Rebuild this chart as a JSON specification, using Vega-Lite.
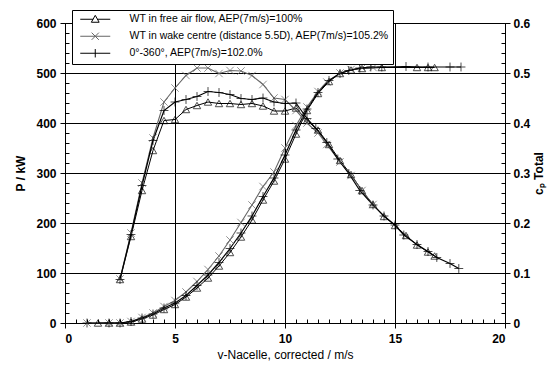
{
  "$schema": "https://vega.github.io/schema/vega-lite/v6.json",
  "width": 440,
  "height": 300,
  "autosize": {"type": "none"},
  "padding": {"left": 65, "top": 23, "right": 48, "bottom": 48},
  "background": "white",
  "config": {
    "font": "Liberation Sans",
    "view": {"stroke": "black", "strokeWidth": 1, "fill": "#f8f8f8"},
    "axis": {
      "labelFont": "Liberation Sans", "titleFont": "Liberation Sans",
      "labelColor": "black", "titleColor": "black", "domainColor": "black",
      "tickColor": "black", "gridColor": "black", "gridOpacity": 1, "gridWidth": 1,
      "labelFontSize": 12, "labelFontWeight": "bold", "titleFontSize": 12, "titleFontWeight": "bold",
      "tickSize": 5, "domainWidth": 1, "tickWidth": 1
    }
  },
  "datasets": {
    "power": [
      {"s": "WT in free air flow, AEP(7m/s)=100%", "v": 1.5, "p": 0},
      {"s": "WT in free air flow, AEP(7m/s)=100%", "v": 2.0, "p": 0},
      {"s": "WT in free air flow, AEP(7m/s)=100%", "v": 2.5, "p": 0},
      {"s": "WT in free air flow, AEP(7m/s)=100%", "v": 3.0, "p": 2},
      {"s": "WT in free air flow, AEP(7m/s)=100%", "v": 3.5, "p": 8},
      {"s": "WT in free air flow, AEP(7m/s)=100%", "v": 4.0, "p": 16},
      {"s": "WT in free air flow, AEP(7m/s)=100%", "v": 4.5, "p": 27},
      {"s": "WT in free air flow, AEP(7m/s)=100%", "v": 5.0, "p": 37},
      {"s": "WT in free air flow, AEP(7m/s)=100%", "v": 5.5, "p": 52},
      {"s": "WT in free air flow, AEP(7m/s)=100%", "v": 6.0, "p": 70},
      {"s": "WT in free air flow, AEP(7m/s)=100%", "v": 6.5, "p": 90},
      {"s": "WT in free air flow, AEP(7m/s)=100%", "v": 7.0, "p": 114},
      {"s": "WT in free air flow, AEP(7m/s)=100%", "v": 7.5, "p": 141},
      {"s": "WT in free air flow, AEP(7m/s)=100%", "v": 8.0, "p": 172},
      {"s": "WT in free air flow, AEP(7m/s)=100%", "v": 8.5, "p": 206},
      {"s": "WT in free air flow, AEP(7m/s)=100%", "v": 9.0, "p": 246},
      {"s": "WT in free air flow, AEP(7m/s)=100%", "v": 9.5, "p": 284},
      {"s": "WT in free air flow, AEP(7m/s)=100%", "v": 10.0, "p": 328},
      {"s": "WT in free air flow, AEP(7m/s)=100%", "v": 10.5, "p": 378},
      {"s": "WT in free air flow, AEP(7m/s)=100%", "v": 11.0, "p": 425},
      {"s": "WT in free air flow, AEP(7m/s)=100%", "v": 11.5, "p": 459},
      {"s": "WT in free air flow, AEP(7m/s)=100%", "v": 12.0, "p": 483},
      {"s": "WT in free air flow, AEP(7m/s)=100%", "v": 12.5, "p": 499},
      {"s": "WT in free air flow, AEP(7m/s)=100%", "v": 13.0, "p": 506},
      {"s": "WT in free air flow, AEP(7m/s)=100%", "v": 13.5, "p": 509},
      {"s": "WT in free air flow, AEP(7m/s)=100%", "v": 14.4, "p": 511},
      {"s": "WT in free air flow, AEP(7m/s)=100%", "v": 16.0, "p": 511},
      {"s": "WT in free air flow, AEP(7m/s)=100%", "v": 16.5, "p": 511},
      {"s": "WT in free air flow, AEP(7m/s)=100%", "v": 16.8, "p": 511},
      {"s": "WT in wake centre (distance 5.5D), AEP(7m/s)=105.2%", "v": 1.0, "p": 0},
      {"s": "WT in wake centre (distance 5.5D), AEP(7m/s)=105.2%", "v": 2.0, "p": 0},
      {"s": "WT in wake centre (distance 5.5D), AEP(7m/s)=105.2%", "v": 2.5, "p": 0},
      {"s": "WT in wake centre (distance 5.5D), AEP(7m/s)=105.2%", "v": 3.0, "p": 3},
      {"s": "WT in wake centre (distance 5.5D), AEP(7m/s)=105.2%", "v": 3.5, "p": 11},
      {"s": "WT in wake centre (distance 5.5D), AEP(7m/s)=105.2%", "v": 4.0, "p": 20},
      {"s": "WT in wake centre (distance 5.5D), AEP(7m/s)=105.2%", "v": 4.5, "p": 33},
      {"s": "WT in wake centre (distance 5.5D), AEP(7m/s)=105.2%", "v": 5.0, "p": 45},
      {"s": "WT in wake centre (distance 5.5D), AEP(7m/s)=105.2%", "v": 5.5, "p": 62},
      {"s": "WT in wake centre (distance 5.5D), AEP(7m/s)=105.2%", "v": 6.0, "p": 83},
      {"s": "WT in wake centre (distance 5.5D), AEP(7m/s)=105.2%", "v": 6.5, "p": 107},
      {"s": "WT in wake centre (distance 5.5D), AEP(7m/s)=105.2%", "v": 7.0, "p": 134},
      {"s": "WT in wake centre (distance 5.5D), AEP(7m/s)=105.2%", "v": 7.5, "p": 166},
      {"s": "WT in wake centre (distance 5.5D), AEP(7m/s)=105.2%", "v": 8.0, "p": 201},
      {"s": "WT in wake centre (distance 5.5D), AEP(7m/s)=105.2%", "v": 8.5, "p": 236},
      {"s": "WT in wake centre (distance 5.5D), AEP(7m/s)=105.2%", "v": 9.0, "p": 273},
      {"s": "WT in wake centre (distance 5.5D), AEP(7m/s)=105.2%", "v": 9.5, "p": 302},
      {"s": "WT in wake centre (distance 5.5D), AEP(7m/s)=105.2%", "v": 10.0, "p": 350},
      {"s": "WT in wake centre (distance 5.5D), AEP(7m/s)=105.2%", "v": 10.5, "p": 395},
      {"s": "WT in wake centre (distance 5.5D), AEP(7m/s)=105.2%", "v": 11.0, "p": 432},
      {"s": "WT in wake centre (distance 5.5D), AEP(7m/s)=105.2%", "v": 11.5, "p": 463},
      {"s": "WT in wake centre (distance 5.5D), AEP(7m/s)=105.2%", "v": 11.9, "p": 482},
      {"s": "WT in wake centre (distance 5.5D), AEP(7m/s)=105.2%", "v": 12.5, "p": 500},
      {"s": "WT in wake centre (distance 5.5D), AEP(7m/s)=105.2%", "v": 13.0, "p": 507},
      {"s": "WT in wake centre (distance 5.5D), AEP(7m/s)=105.2%", "v": 13.5, "p": 510},
      {"s": "WT in wake centre (distance 5.5D), AEP(7m/s)=105.2%", "v": 14.0, "p": 511},
      {"s": "0°-360°, AEP(7m/s)=102.0%", "v": 1.0, "p": 0},
      {"s": "0°-360°, AEP(7m/s)=102.0%", "v": 2.0, "p": 0},
      {"s": "0°-360°, AEP(7m/s)=102.0%", "v": 2.5, "p": 0},
      {"s": "0°-360°, AEP(7m/s)=102.0%", "v": 3.0, "p": 3},
      {"s": "0°-360°, AEP(7m/s)=102.0%", "v": 3.5, "p": 10},
      {"s": "0°-360°, AEP(7m/s)=102.0%", "v": 4.0, "p": 18},
      {"s": "0°-360°, AEP(7m/s)=102.0%", "v": 4.5, "p": 30},
      {"s": "0°-360°, AEP(7m/s)=102.0%", "v": 5.0, "p": 40},
      {"s": "0°-360°, AEP(7m/s)=102.0%", "v": 5.5, "p": 55},
      {"s": "0°-360°, AEP(7m/s)=102.0%", "v": 6.0, "p": 75},
      {"s": "0°-360°, AEP(7m/s)=102.0%", "v": 6.5, "p": 96},
      {"s": "0°-360°, AEP(7m/s)=102.0%", "v": 7.0, "p": 121},
      {"s": "0°-360°, AEP(7m/s)=102.0%", "v": 7.5, "p": 149},
      {"s": "0°-360°, AEP(7m/s)=102.0%", "v": 8.0, "p": 180},
      {"s": "0°-360°, AEP(7m/s)=102.0%", "v": 8.5, "p": 214},
      {"s": "0°-360°, AEP(7m/s)=102.0%", "v": 9.0, "p": 253},
      {"s": "0°-360°, AEP(7m/s)=102.0%", "v": 9.5, "p": 290},
      {"s": "0°-360°, AEP(7m/s)=102.0%", "v": 10.0, "p": 336},
      {"s": "0°-360°, AEP(7m/s)=102.0%", "v": 10.5, "p": 386},
      {"s": "0°-360°, AEP(7m/s)=102.0%", "v": 11.0, "p": 428},
      {"s": "0°-360°, AEP(7m/s)=102.0%", "v": 11.5, "p": 461},
      {"s": "0°-360°, AEP(7m/s)=102.0%", "v": 12.0, "p": 485},
      {"s": "0°-360°, AEP(7m/s)=102.0%", "v": 12.5, "p": 499},
      {"s": "0°-360°, AEP(7m/s)=102.0%", "v": 12.9, "p": 505},
      {"s": "0°-360°, AEP(7m/s)=102.0%", "v": 13.4, "p": 510},
      {"s": "0°-360°, AEP(7m/s)=102.0%", "v": 13.9, "p": 512},
      {"s": "0°-360°, AEP(7m/s)=102.0%", "v": 14.4, "p": 512},
      {"s": "0°-360°, AEP(7m/s)=102.0%", "v": 15.5, "p": 513},
      {"s": "0°-360°, AEP(7m/s)=102.0%", "v": 16.5, "p": 512},
      {"s": "0°-360°, AEP(7m/s)=102.0%", "v": 17.5, "p": 512},
      {"s": "0°-360°, AEP(7m/s)=102.0%", "v": 18.0, "p": 512}
    ],
    "cp": [
      {"s": "WT in free air flow, AEP(7m/s)=100%", "v": 2.5, "c": 0.087},
      {"s": "WT in free air flow, AEP(7m/s)=100%", "v": 3.0, "c": 0.173},
      {"s": "WT in free air flow, AEP(7m/s)=100%", "v": 3.5, "c": 0.265},
      {"s": "WT in free air flow, AEP(7m/s)=100%", "v": 4.0, "c": 0.345},
      {"s": "WT in free air flow, AEP(7m/s)=100%", "v": 4.5, "c": 0.405},
      {"s": "WT in free air flow, AEP(7m/s)=100%", "v": 5.0, "c": 0.407},
      {"s": "WT in free air flow, AEP(7m/s)=100%", "v": 5.5, "c": 0.427},
      {"s": "WT in free air flow, AEP(7m/s)=100%", "v": 6.0, "c": 0.435},
      {"s": "WT in free air flow, AEP(7m/s)=100%", "v": 6.5, "c": 0.442},
      {"s": "WT in free air flow, AEP(7m/s)=100%", "v": 7.0, "c": 0.439},
      {"s": "WT in free air flow, AEP(7m/s)=100%", "v": 7.5, "c": 0.439},
      {"s": "WT in free air flow, AEP(7m/s)=100%", "v": 8.0, "c": 0.437},
      {"s": "WT in free air flow, AEP(7m/s)=100%", "v": 8.5, "c": 0.439},
      {"s": "WT in free air flow, AEP(7m/s)=100%", "v": 9.0, "c": 0.434},
      {"s": "WT in free air flow, AEP(7m/s)=100%", "v": 9.5, "c": 0.424},
      {"s": "WT in free air flow, AEP(7m/s)=100%", "v": 10.0, "c": 0.424},
      {"s": "WT in free air flow, AEP(7m/s)=100%", "v": 10.5, "c": 0.43},
      {"s": "WT in free air flow, AEP(7m/s)=100%", "v": 11.0, "c": 0.405},
      {"s": "WT in free air flow, AEP(7m/s)=100%", "v": 11.5, "c": 0.386},
      {"s": "WT in free air flow, AEP(7m/s)=100%", "v": 12.0, "c": 0.357},
      {"s": "WT in free air flow, AEP(7m/s)=100%", "v": 12.5, "c": 0.325},
      {"s": "WT in free air flow, AEP(7m/s)=100%", "v": 13.0, "c": 0.297},
      {"s": "WT in free air flow, AEP(7m/s)=100%", "v": 13.5, "c": 0.265},
      {"s": "WT in free air flow, AEP(7m/s)=100%", "v": 14.0, "c": 0.237},
      {"s": "WT in free air flow, AEP(7m/s)=100%", "v": 14.5, "c": 0.213},
      {"s": "WT in free air flow, AEP(7m/s)=100%", "v": 15.0, "c": 0.195},
      {"s": "WT in free air flow, AEP(7m/s)=100%", "v": 15.5, "c": 0.175},
      {"s": "WT in free air flow, AEP(7m/s)=100%", "v": 16.0, "c": 0.156},
      {"s": "WT in free air flow, AEP(7m/s)=100%", "v": 16.5, "c": 0.142},
      {"s": "WT in free air flow, AEP(7m/s)=100%", "v": 16.8, "c": 0.134},
      {"s": "WT in wake centre (distance 5.5D), AEP(7m/s)=105.2%", "v": 2.5, "c": 0.088},
      {"s": "WT in wake centre (distance 5.5D), AEP(7m/s)=105.2%", "v": 3.0, "c": 0.18},
      {"s": "WT in wake centre (distance 5.5D), AEP(7m/s)=105.2%", "v": 3.5, "c": 0.28},
      {"s": "WT in wake centre (distance 5.5D), AEP(7m/s)=105.2%", "v": 4.0, "c": 0.37},
      {"s": "WT in wake centre (distance 5.5D), AEP(7m/s)=105.2%", "v": 4.5, "c": 0.442},
      {"s": "WT in wake centre (distance 5.5D), AEP(7m/s)=105.2%", "v": 5.0, "c": 0.47},
      {"s": "WT in wake centre (distance 5.5D), AEP(7m/s)=105.2%", "v": 5.5, "c": 0.495},
      {"s": "WT in wake centre (distance 5.5D), AEP(7m/s)=105.2%", "v": 6.0, "c": 0.51},
      {"s": "WT in wake centre (distance 5.5D), AEP(7m/s)=105.2%", "v": 6.5, "c": 0.51},
      {"s": "WT in wake centre (distance 5.5D), AEP(7m/s)=105.2%", "v": 7.0, "c": 0.499},
      {"s": "WT in wake centre (distance 5.5D), AEP(7m/s)=105.2%", "v": 7.5, "c": 0.505},
      {"s": "WT in wake centre (distance 5.5D), AEP(7m/s)=105.2%", "v": 8.0, "c": 0.504},
      {"s": "WT in wake centre (distance 5.5D), AEP(7m/s)=105.2%", "v": 8.5, "c": 0.495},
      {"s": "WT in wake centre (distance 5.5D), AEP(7m/s)=105.2%", "v": 9.0, "c": 0.477},
      {"s": "WT in wake centre (distance 5.5D), AEP(7m/s)=105.2%", "v": 9.5, "c": 0.45},
      {"s": "WT in wake centre (distance 5.5D), AEP(7m/s)=105.2%", "v": 10.0, "c": 0.447},
      {"s": "WT in wake centre (distance 5.5D), AEP(7m/s)=105.2%", "v": 10.5, "c": 0.425},
      {"s": "WT in wake centre (distance 5.5D), AEP(7m/s)=105.2%", "v": 11.0, "c": 0.4},
      {"s": "WT in wake centre (distance 5.5D), AEP(7m/s)=105.2%", "v": 11.5, "c": 0.38},
      {"s": "WT in wake centre (distance 5.5D), AEP(7m/s)=105.2%", "v": 11.9, "c": 0.357},
      {"s": "WT in wake centre (distance 5.5D), AEP(7m/s)=105.2%", "v": 12.5, "c": 0.322},
      {"s": "WT in wake centre (distance 5.5D), AEP(7m/s)=105.2%", "v": 13.0, "c": 0.295},
      {"s": "WT in wake centre (distance 5.5D), AEP(7m/s)=105.2%", "v": 13.5, "c": 0.265},
      {"s": "WT in wake centre (distance 5.5D), AEP(7m/s)=105.2%", "v": 14.0, "c": 0.237},
      {"s": "0°-360°, AEP(7m/s)=102.0%", "v": 2.5, "c": 0.087},
      {"s": "0°-360°, AEP(7m/s)=102.0%", "v": 3.0, "c": 0.177},
      {"s": "0°-360°, AEP(7m/s)=102.0%", "v": 3.5, "c": 0.275},
      {"s": "0°-360°, AEP(7m/s)=102.0%", "v": 4.0, "c": 0.365},
      {"s": "0°-360°, AEP(7m/s)=102.0%", "v": 4.5, "c": 0.425},
      {"s": "0°-360°, AEP(7m/s)=102.0%", "v": 5.0, "c": 0.442},
      {"s": "0°-360°, AEP(7m/s)=102.0%", "v": 5.5, "c": 0.447},
      {"s": "0°-360°, AEP(7m/s)=102.0%", "v": 6.0, "c": 0.453},
      {"s": "0°-360°, AEP(7m/s)=102.0%", "v": 6.5, "c": 0.463},
      {"s": "0°-360°, AEP(7m/s)=102.0%", "v": 7.0, "c": 0.461},
      {"s": "0°-360°, AEP(7m/s)=102.0%", "v": 7.5, "c": 0.457},
      {"s": "0°-360°, AEP(7m/s)=102.0%", "v": 8.0, "c": 0.449},
      {"s": "0°-360°, AEP(7m/s)=102.0%", "v": 8.5, "c": 0.447},
      {"s": "0°-360°, AEP(7m/s)=102.0%", "v": 9.0, "c": 0.45},
      {"s": "0°-360°, AEP(7m/s)=102.0%", "v": 9.5, "c": 0.442},
      {"s": "0°-360°, AEP(7m/s)=102.0%", "v": 10.0, "c": 0.439},
      {"s": "0°-360°, AEP(7m/s)=102.0%", "v": 10.5, "c": 0.44},
      {"s": "0°-360°, AEP(7m/s)=102.0%", "v": 11.0, "c": 0.409},
      {"s": "0°-360°, AEP(7m/s)=102.0%", "v": 11.4, "c": 0.389},
      {"s": "0°-360°, AEP(7m/s)=102.0%", "v": 11.9, "c": 0.361},
      {"s": "0°-360°, AEP(7m/s)=102.0%", "v": 12.4, "c": 0.328},
      {"s": "0°-360°, AEP(7m/s)=102.0%", "v": 12.9, "c": 0.299},
      {"s": "0°-360°, AEP(7m/s)=102.0%", "v": 13.4, "c": 0.265},
      {"s": "0°-360°, AEP(7m/s)=102.0%", "v": 14.0, "c": 0.236},
      {"s": "0°-360°, AEP(7m/s)=102.0%", "v": 14.5, "c": 0.214},
      {"s": "0°-360°, AEP(7m/s)=102.0%", "v": 15.0, "c": 0.196},
      {"s": "0°-360°, AEP(7m/s)=102.0%", "v": 15.4, "c": 0.176},
      {"s": "0°-360°, AEP(7m/s)=102.0%", "v": 16.0, "c": 0.157},
      {"s": "0°-360°, AEP(7m/s)=102.0%", "v": 16.5, "c": 0.143},
      {"s": "0°-360°, AEP(7m/s)=102.0%", "v": 16.9, "c": 0.131},
      {"s": "0°-360°, AEP(7m/s)=102.0%", "v": 17.5, "c": 0.119},
      {"s": "0°-360°, AEP(7m/s)=102.0%", "v": 17.9, "c": 0.109}
    ]
  },
  "layer": [
    {
      "data": {"name": "power"},
      "mark": {"type": "line"},
      "encoding": {
        "x": {"field": "v", "type": "quantitative", "scale": {"domain": [0, 20], "nice": false},
          "axis": {"orient": "bottom", "values": [0, 5, 10, 15, 20], "grid": true, "title": "v-Nacelle, corrected / m/s", "titleFontWeight": "normal", "labelPadding": 5, "titlePadding": 5}},
        "y": {"field": "p", "type": "quantitative", "scale": {"domain": [0, 600], "nice": false},
          "axis": {"orient": "left", "values": [0, 100, 200, 300, 400, 500, 600], "grid": true, "title": "P / kW", "labelPadding": 4, "titlePadding": 8}},
        "color": {"field": "s", "type": "nominal", "legend": null,
          "scale": {"domain": ["WT in free air flow, AEP(7m/s)=100%", "WT in wake centre (distance 5.5D), AEP(7m/s)=105.2%", "0°-360°, AEP(7m/s)=102.0%"], "range": ["#000000", "#666666", "#000000"]}},
        "strokeWidth": {"field": "s", "type": "nominal", "legend": null,
          "scale": {"domain": ["WT in free air flow, AEP(7m/s)=100%", "WT in wake centre (distance 5.5D), AEP(7m/s)=105.2%", "0°-360°, AEP(7m/s)=102.0%"], "range": [1, 1.2, 1.6]}}
      }
    },
    {
      "data": {"name": "power"},
      "mark": {"type": "point", "filled": false, "size": 55, "strokeWidth": 1},
      "encoding": {
        "x": {"field": "v", "type": "quantitative", "scale": {"domain": [0, 20], "nice": false},
          "axis": {"orient": "bottom", "values": [0.5, 1, 1.5, 2, 2.5, 3, 3.5, 4, 4.5, 5, 5.5, 6, 6.5, 7, 7.5, 8, 8.5, 9, 9.5, 10, 10.5, 11, 11.5, 12, 12.5, 13, 13.5, 14, 14.5, 15, 15.5, 16, 16.5, 17, 17.5, 18, 18.5, 19, 19.5], "labels": false, "domain": false, "grid": false, "tickSize": -4, "title": null}},
        "y": {"field": "p", "type": "quantitative", "scale": {"domain": [0, 600], "nice": false},
          "axis": {"orient": "left", "values": [20, 40, 60, 80, 100, 120, 140, 160, 180, 200, 220, 240, 260, 280, 300, 320, 340, 360, 380, 400, 420, 440, 460, 480, 500, 520, 540, 560, 580], "labels": false, "domain": false, "grid": false, "tickSize": -4, "title": null}},
        "color": {"field": "s", "type": "nominal", "legend": null,
          "scale": {"domain": ["WT in free air flow, AEP(7m/s)=100%", "WT in wake centre (distance 5.5D), AEP(7m/s)=105.2%", "0°-360°, AEP(7m/s)=102.0%"], "range": ["#000000", "#666666", "#000000"]}},
        "shape": {"field": "s", "type": "nominal", "legend": null,
          "scale": {"domain": ["WT in free air flow, AEP(7m/s)=100%", "WT in wake centre (distance 5.5D), AEP(7m/s)=105.2%", "0°-360°, AEP(7m/s)=102.0%"], "range": ["triangle-up", "M-1,-1L1,1M-1,1L1,-1", "M-1.2,0L1.2,0M0,-1.2L0,1.2"]}}
      }
    },
    {
      "data": {"name": "cp"},
      "mark": {"type": "line"},
      "encoding": {
        "x": {"field": "v", "type": "quantitative", "scale": {"domain": [0, 20], "nice": false}, "axis": null},
        "y": {"field": "c", "type": "quantitative", "scale": {"domain": [0, 0.6], "nice": false},
          "axis": {"orient": "right", "values": [0, 0.1, 0.2, 0.3, 0.4, 0.5, 0.6], "format": ".1~f", "grid": false, "title": "cₚ Total", "titleAngle": 270, "titleBaseline": "top", "labelPadding": 3, "titlePadding": 4}},
        "color": {"field": "s", "type": "nominal", "legend": null,
          "scale": {"domain": ["WT in free air flow, AEP(7m/s)=100%", "WT in wake centre (distance 5.5D), AEP(7m/s)=105.2%", "0°-360°, AEP(7m/s)=102.0%"], "range": ["#000000", "#666666", "#000000"]}},
        "strokeWidth": {"field": "s", "type": "nominal", "legend": null,
          "scale": {"domain": ["WT in free air flow, AEP(7m/s)=100%", "WT in wake centre (distance 5.5D), AEP(7m/s)=105.2%", "0°-360°, AEP(7m/s)=102.0%"], "range": [1, 1.2, 1.6]}}
      }
    },
    {
      "data": {"name": "cp"},
      "mark": {"type": "point", "filled": false, "size": 55, "strokeWidth": 1},
      "encoding": {
        "x": {"field": "v", "type": "quantitative", "scale": {"domain": [0, 20], "nice": false}, "axis": null},
        "y": {"field": "c", "type": "quantitative", "scale": {"domain": [0, 0.6], "nice": false},
          "axis": {"orient": "right", "values": [0.02, 0.04, 0.06, 0.08, 0.1, 0.12, 0.14, 0.16, 0.18, 0.2, 0.22, 0.24, 0.26, 0.28, 0.3, 0.32, 0.34, 0.36, 0.38, 0.4, 0.42, 0.44, 0.46, 0.48, 0.5, 0.52, 0.54, 0.56, 0.58], "labels": false, "domain": false, "grid": false, "tickSize": -4, "title": null}},
        "color": {"field": "s", "type": "nominal", "legend": null,
          "scale": {"domain": ["WT in free air flow, AEP(7m/s)=100%", "WT in wake centre (distance 5.5D), AEP(7m/s)=105.2%", "0°-360°, AEP(7m/s)=102.0%"], "range": ["#000000", "#666666", "#000000"]}},
        "shape": {"field": "s", "type": "nominal", "legend": null,
          "scale": {"domain": ["WT in free air flow, AEP(7m/s)=100%", "WT in wake centre (distance 5.5D), AEP(7m/s)=105.2%", "0°-360°, AEP(7m/s)=102.0%"], "range": ["triangle-up", "M-1,-1L1,1M-1,1L1,-1", "M-1.2,0L1.2,0M0,-1.2L0,1.2"]}}
      }
    },
    {
      "data": {"name": "power"},
      "mark": {"type": "point", "filled": false, "opacity": 0},
      "encoding": {
        "color": {"field": "s", "type": "nominal",
          "scale": {"domain": ["WT in free air flow, AEP(7m/s)=100%", "WT in wake centre (distance 5.5D), AEP(7m/s)=105.2%", "0°-360°, AEP(7m/s)=102.0%"], "range": ["#000000", "#666666", "#000000"]},
          "legend": {"title": null, "orient": "none", "legendX": 7, "legendY": -13, "fillColor": "white", "strokeColor": "black", "padding": 4, "cornerRadius": 0, "symbolSize": 36, "symbolOffset": 14, "labelOffset": 29, "labelFontSize": 10.5, "labelFont": "Liberation Sans", "labelColor": "black", "labelLimit": 400, "rowPadding": 5, "symbolStrokeWidth": 1}},
        "shape": {"field": "s", "type": "nominal",
          "scale": {"domain": ["WT in free air flow, AEP(7m/s)=100%", "WT in wake centre (distance 5.5D), AEP(7m/s)=105.2%", "0°-360°, AEP(7m/s)=102.0%"], "range": ["M-5,0L-0.7,0M0.7,0L5,0M0,-1.3L1.3,1L-1.3,1Z", "M-5,0L5,0M-1.2,-1.2L1.2,1.2M-1.2,1.2L1.2,-1.2", "M-5,0L5,0M0,-1.4L0,1.4"]},
          "legend": {"title": null, "orient": "none", "legendX": 7, "legendY": -13, "fillColor": "white", "strokeColor": "black", "padding": 4, "cornerRadius": 0, "symbolSize": 36, "symbolOffset": 14, "labelOffset": 29, "labelFontSize": 10.5, "labelFont": "Liberation Sans", "labelColor": "black", "labelLimit": 400, "rowPadding": 5, "symbolStrokeWidth": 1}}
      }
    }
  ],
  "resolve": {
    "scale": {"y": "independent", "color": "independent", "shape": "independent", "strokeWidth": "independent"},
    "axis": {"x": "independent", "y": "independent"}
  }
}
